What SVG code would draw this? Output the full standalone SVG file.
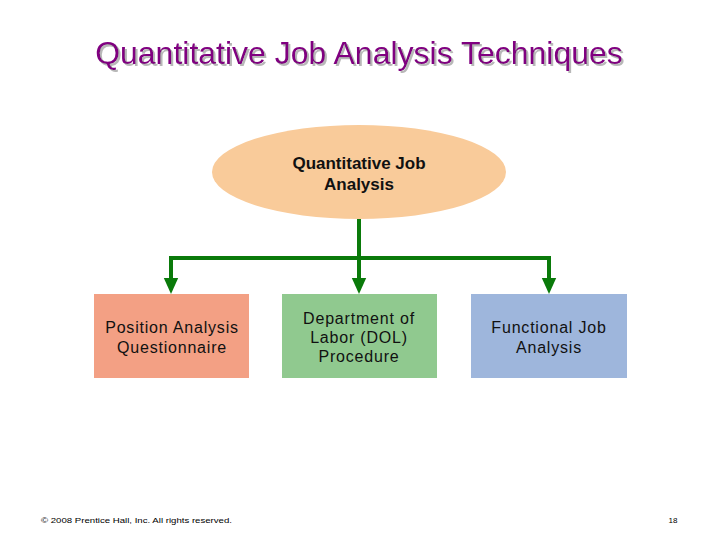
<svg xmlns="http://www.w3.org/2000/svg" width="720" height="540" viewBox="0 0 720 540">
<style>
.t{font-family:"Liberation Sans",Arial,sans-serif;font-size:16px;letter-spacing:0.8px;fill:#111;text-anchor:middle}
.e{font-size:17px;font-weight:bold;letter-spacing:0}
.c{stroke:#0a7a0a;stroke-width:4;fill:none}
.foot{font-family:"Liberation Sans",Arial,sans-serif;font-size:8px;fill:#000}
.ttl{font-family:"Liberation Sans",Arial,sans-serif;font-size:32px;text-anchor:middle}
</style>
<defs>
<marker id="ah" markerWidth="4" markerHeight="4" refX="2" refY="2" orient="auto" markerUnits="strokeWidth" viewBox="0 0 4 4">
<path d="M0,0.2 L4,2 L0,3.8 Z" fill="#0a7a0a"/>
</marker>
<filter id="sh" x="-5%" y="-20%" width="110%" height="150%">
<feOffset in="SourceAlpha" dx="2" dy="2" result="o"/>
<feFlood flood-color="#b8b8b8"/>
<feComposite in2="o" operator="in" result="s"/>
<feMerge><feMergeNode in="s"/><feMergeNode in="SourceGraphic"/></feMerge>
</filter>
</defs>
<rect width="720" height="540" fill="#fff"/>
<g id="title">
<text class="ttl" x="359" y="64" fill="#800080" filter="url(#sh)">Quantitative Job Analysis Techniques</text>
</g>
<g id="connectors">
<path class="c" d="M359,219 V258"/>
<path class="c" d="M171,258 H549"/>
<path class="c" d="M171,256 V286" marker-end="url(#ah)"/>
<path class="c" d="M359,256 V286" marker-end="url(#ah)"/>
<path class="c" d="M549,256 V286" marker-end="url(#ah)"/>
</g>
<g id="root">
<ellipse cx="359" cy="172" rx="147" ry="47" fill="#f9cb9a"/>
<text class="t e" x="359" y="169">Quantitative Job</text>
<text class="t e" x="359" y="190">Analysis</text>
</g>
<g id="paq">
<rect x="94" y="294" width="155" height="84" fill="#f3a084"/>
<text class="t" x="172" y="333">Position Analysis</text>
<text class="t" x="172" y="353">Questionnaire</text>
</g>
<g id="dol">
<rect x="282" y="294" width="155" height="84" fill="#90c98f"/>
<text class="t" x="359" y="324">Department of</text>
<text class="t" x="359" y="343">Labor (DOL)</text>
<text class="t" x="359" y="362">Procedure</text>
</g>
<g id="fja">
<rect x="471" y="294" width="156" height="84" fill="#9eb6dc"/>
<text class="t" x="549" y="333">Functional Job</text>
<text class="t" x="549" y="353">Analysis</text>
</g>
<g id="footer">
<text class="foot" x="41" y="523" textLength="191" lengthAdjust="spacingAndGlyphs">© 2008 Prentice Hall, Inc. All rights reserved.</text>
<text class="foot" x="673" y="523" text-anchor="middle">18</text>
</g>
</svg>
